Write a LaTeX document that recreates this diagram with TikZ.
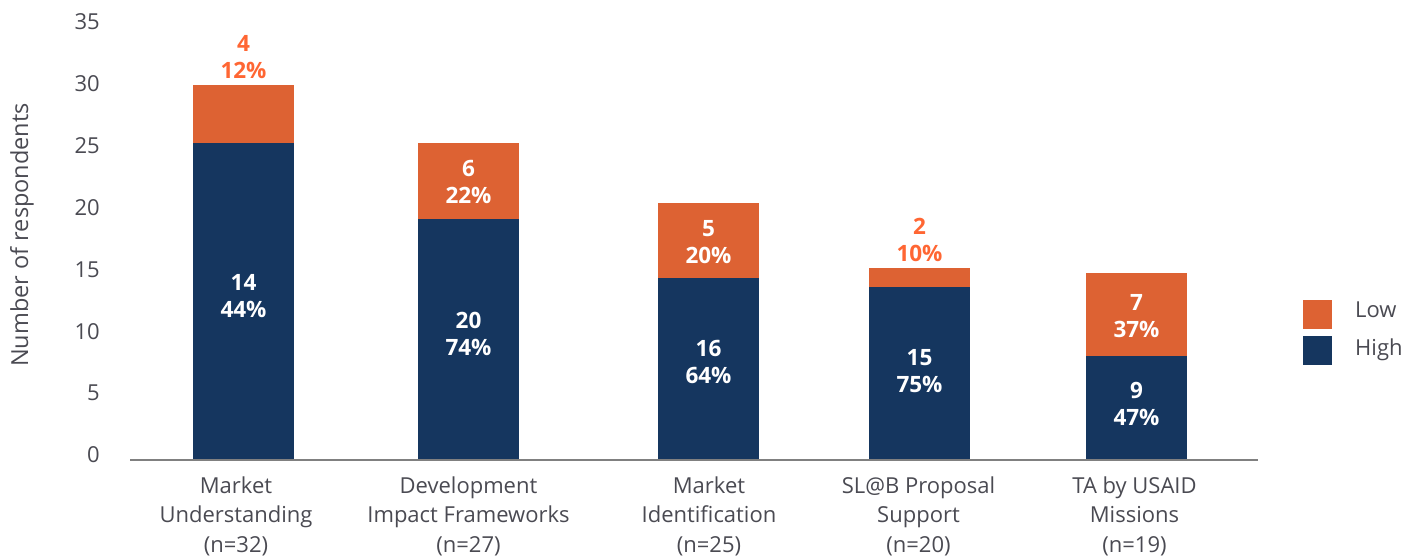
\documentclass[tikz,border=0pt]{standalone}
\usepackage{fontspec}
\setmainfont{Open Sans}
\definecolor{lowbar}{HTML}{DD6233}
\definecolor{highbar}{HTML}{15365F}
\definecolor{lowtext}{HTML}{FF6633}
\definecolor{axistext}{HTML}{4A4A52}
\definecolor{axisline}{HTML}{808080}

\begin{document}
\begin{tikzpicture}[x=1pt, y=-1pt,
  ticklabel/.style = {anchor=east, inner sep=0pt, text=axistext, font=\fontsize{22}{26}\selectfont},
  catlabel/.style = {align=center, inner sep=0pt, text=axistext, font=\fontsize{22}{29.5}\selectfont},
  inlabel/.style = {align=center, inner sep=0pt, text=white, font=\fontsize{22.5}{26.5}\selectfont\bfseries},
  toplabel/.style = {inlabel, text=lowtext},
  legkey/.style = {minimum size=29pt, inner sep=0pt},
  legtext/.style = {anchor=west, inner sep=0pt, text=axistext, font=\fontsize{22}{26}\selectfont}]
\useasboundingbox (0,0) rectangle (1417,559);

% y axis
\foreach \v [count=\k from 0] in {0,5,...,35}
  \node[ticklabel] (tick\v) at (100, 455-61.86*\k) {\v};
\node[rotate=90, inner sep=0pt, text=axistext, font=\fontsize{23.5}{28}\selectfont] (ytitle) at (22,235) {Number of respondents};

% bars: left, top, split, high label y, low label y, high, low, low colour
\foreach \x/\t/\s/\hy/\ly/\hv/\lv/\lc [count=\i] in
  {193/85/143/296/57/{14\\44\%}/{4\\12\%}/toplabel,
   418/143/219/334/182/{20\\74\%}/{6\\22\%}/inlabel,
   658/203/278/362/242/{16\\64\%}/{5\\20\%}/inlabel,
   869/268/287/371/240/{15\\75\%}/{2\\10\%}/toplabel,
   1086/273/356/404/316/{9\\47\%}/{7\\37\%}/inlabel}{
  \fill[highbar] (\x,\s) rectangle (\x+101,460);
  \fill[lowbar] (\x,\t) rectangle (\x+101,\s);
  \node[inlabel] (high\i) at (\x+50.5,\hy) {\hv};
  \node[\lc] (low\i) at (\x+50.5,\ly) {\lv};
}

% x axis
\coordinate (xleft) at (130,460);
\coordinate (xright) at (1258,460);
\draw[axisline, line width=1.2pt] (xleft) -- (xright);

% categories
\node[catlabel] (cat1) at (236,516) {Market\\Understanding\\(n=32)};
\node[catlabel] (cat2) at (468.5,516) {Development\\Impact Frameworks\\(n=27)};
\node[catlabel] (cat3) at (709,516) {Market\\Identification\\(n=25)};
\node[catlabel] (cat4) at (918.5,516) {SL@B Proposal\\Support\\(n=20)};
\node[catlabel] (cat5) at (1134.5,516) {TA by USAID\\Missions\\(n=19)};

% legend
\node[legkey, fill=lowbar] (keylow) at (1317.5,314.5) {};
\node[legkey, fill=highbar] (keyhigh) at (1317.5,350.5) {};
\node[legtext] (textlow) at (1355,310) {Low};
\node[legtext] (texthigh) at (1355,350) {High};
\end{tikzpicture}
\end{document}
